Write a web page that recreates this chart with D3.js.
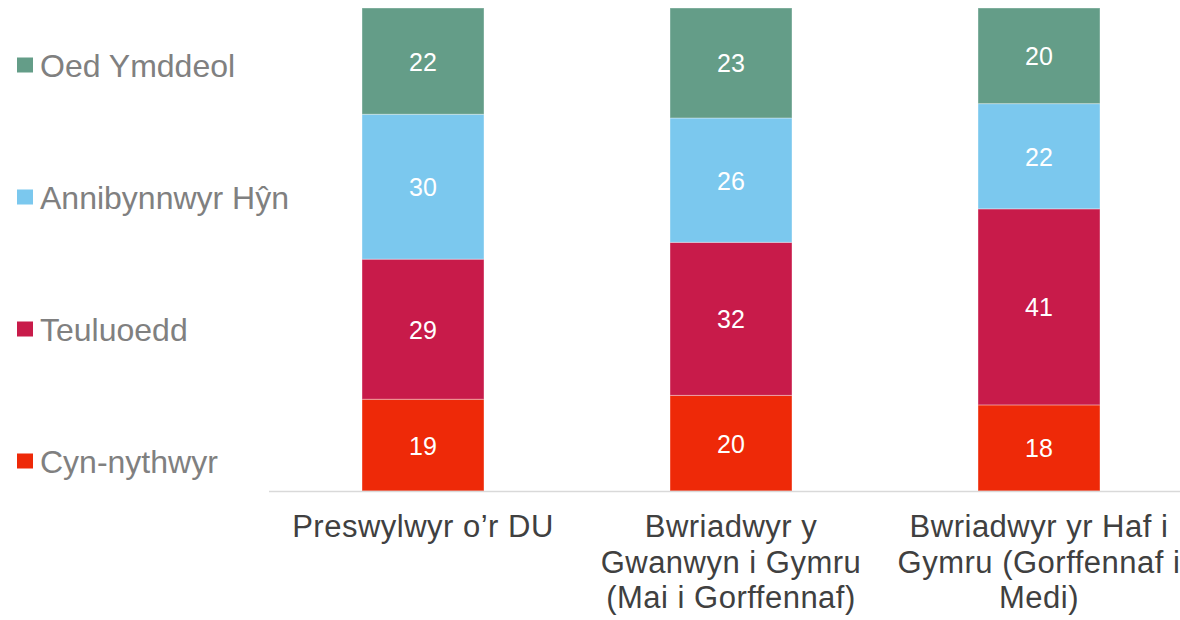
<!DOCTYPE html>
<html>
<head>
<meta charset="utf-8">
<script src="https://cdn.jsdelivr.net/npm/d3@7"></script>
<style>
  body { margin: 0; background: #fff; }
  text { font-family: "Liberation Sans", Arial, Helvetica, sans-serif; }
</style>
</head>
<body>
<div class="chart"></div>
<script>
// categories (each line of a label is a separate entry)
var categories = [
  ["Preswylwyr o\u2019r DU"],
  ["Bwriadwyr y", "Gwanwyn i Gymru", "(Mai i Gorffennaf)"],
  ["Bwriadwyr yr Haf i", "Gymru (Gorffennaf i", "Medi)"]
];
var seriesNames = ["Cyn-nythwyr", "Teuluoedd", "Annibynnwyr H\u0177n", "Oed Ymddeol"];
var seriesColors = ["#ee2908", "#c81b4a", "#7bc8ee", "#649d88"];

var cynNythwyr   = [19, 20, 18];
var teuluoedd    = [29, 32, 41];
var annibynnwyr  = [30, 26, 22];
var oedYmddeol   = [22, 23, 20];

var FONT = "'Liberation Sans', Arial, Helvetica, sans-serif";
var W = 1180, H = 620;
var svg = d3.select("div.chart").append("svg")
  .attr("width", W).attr("height", H);

var table = categories.map(function(c, i) {
  return { key: i, s0: cynNythwyr[i], s1: teuluoedd[i], s2: annibynnwyr[i], s3: oedYmddeol[i] };
});

var stack = d3.stack().keys(["s0", "s1", "s2", "s3"]).offset(d3.stackOffsetExpand);
var layers = stack(table);

var x = d3.scaleBand()
  .domain(table.map(function(d) { return d.key; }))
  .range([269, 1193])
  .paddingInner(0.604)
  .paddingOuter(0.302);

var y = d3.scaleLinear().domain([0, 1]).range([491, 8]);

// bars
var g = svg.append("g");
layers.forEach(function(layer, li) {
  g.selectAll(".seg" + li)
    .data(layer)
    .enter()
    .append("rect")
    .attr("x", function(d, i) { return x(i); })
    .attr("width", x.bandwidth())
    .attr("y", function(d) { return y(d[1]); })
    .attr("height", function(d) { return y(d[0]) - y(d[1]); })
    .attr("fill", seriesColors[li])
    .attr("stroke", "#fff")
    .attr("stroke-opacity", 0.35)
    .attr("stroke-width", 1);

  g.selectAll(".lab" + li)
    .data(layer)
    .enter()
    .append("text")
    .attr("x", function(d, i) { return x(i) + x.bandwidth() / 2; })
    .attr("y", function(d) { return (y(d[0]) + y(d[1])) / 2; })
    .attr("dy", "0.38em")
    .attr("text-anchor", "middle")
    .attr("fill", "#fff")
    .attr("font-family", FONT)
    .attr("font-size", 25)
    .text(function(d, i) { return table[i]["s" + li]; });
});

// axis line
svg.append("line")
  .attr("x1", 269).attr("x2", W)
  .attr("y1", 491.5).attr("y2", 491.5)
  .attr("stroke", "#d9d9d9")
  .attr("stroke-width", 1.5);

// category labels
categories.forEach(function(lines, i) {
  var t = svg.append("text")
    .attr("text-anchor", "middle")
    .attr("fill", "#404040")
    .attr("font-family", FONT)
    .attr("font-size", 31)
    .attr("letter-spacing", 0.5);
  lines.forEach(function(line, j) {
    t.append("tspan")
      .attr("x", x(i) + x.bandwidth() / 2)
      .attr("y", 537 + j * 35.5)
      .text(line);
  });
});

// legend (top item is last series)
var legendY = d3.scalePoint()
  .domain(seriesNames.slice().reverse())
  .range([65, 461]);

var leg = svg.append("g").selectAll("g")
  .data(seriesNames)
  .enter()
  .append("g")
  .attr("transform", function(d) { return "translate(0," + legendY(d) + ")"; });

leg.append("rect")
  .attr("x", 17).attr("y", -7.5)
  .attr("width", 16).attr("height", 15)
  .attr("fill", function(d, i) { return seriesColors[i]; });

leg.append("text")
  .attr("x", 40)
  .attr("y", 0)
  .attr("dy", "0.36em")
  .attr("fill", "#808080")
  .attr("font-family", FONT)
  .attr("font-size", 32)
  .text(function(d) { return d; });
</script>
</body>
</html>
